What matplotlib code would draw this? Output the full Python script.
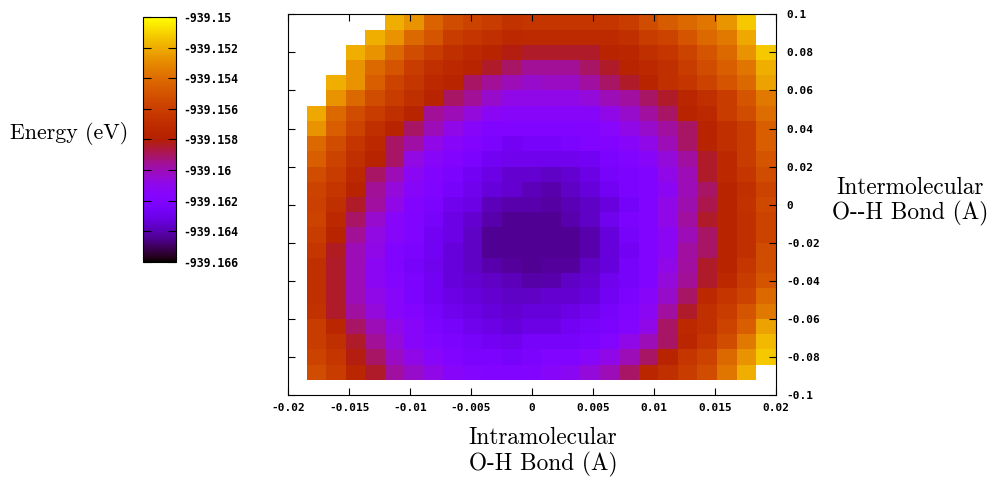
import numpy as np
import matplotlib
matplotlib.use("Agg")
import matplotlib.pyplot as plt

nan = np.nan

# Energy (eV) per cell, rows from top (intermolecular = 0.1) to bottom (-0.092),
# columns from left (intramolecular = -0.0185) to right (0.02)
energy_rows = [
    [nan, nan, nan, nan, -939.15192, -939.15272, -939.15432, -939.15536, -939.15576, -939.15616, -939.15672, -939.15656, -939.15656, -939.15656, -939.15656, -939.15656, -939.15616, -939.15536, -939.15464, -939.15410, -939.15365, -939.15264, -939.15128, nan],
    [nan, nan, nan, -939.15192, -939.15272, -939.15410, -939.15496, -939.15616, -939.15656, -939.15693, -939.15736, -939.15720, -939.15720, -939.15720, -939.15720, -939.15720, -939.15693, -939.15616, -939.15576, -939.15496, -939.15410, -939.15352, -939.15208, nan],
    [nan, nan, -939.15192, -939.15272, -939.15410, -939.15536, -939.15616, -939.15693, -939.15730, -939.15768, -939.15816, -939.15838, -939.15838, -939.15838, -939.15838, -939.15768, -939.15752, -939.15693, -939.15656, -939.15576, -939.15496, -939.15410, -939.15272, -939.15128],
    [nan, nan, -939.15272, -939.15410, -939.15496, -939.15616, -939.15693, -939.15730, -939.15768, -939.15838, -939.15906, -939.15960, -939.15960, -939.15960, -939.15906, -939.15838, -939.15768, -939.15730, -939.15693, -939.15616, -939.15536, -939.15451, -939.15365, -939.15192],
    [nan, -939.15192, -939.15272, -939.15451, -939.15576, -939.15656, -939.15730, -939.15768, -939.15906, -939.15960, -939.16002, -939.16032, -939.16024, -939.16024, -939.15970, -939.15906, -939.15838, -939.15768, -939.15693, -939.15656, -939.15576, -939.15496, -939.15410, -939.15230],
    [nan, -939.15272, -939.15410, -939.15536, -939.15616, -939.15693, -939.15768, -939.15906, -939.15960, -939.16032, -939.16090, -939.16090, -939.16090, -939.16090, -939.16061, -939.16002, -939.15970, -939.15906, -939.15838, -939.15752, -939.15693, -939.15616, -939.15496, -939.15352],
    [-939.15208, -939.15410, -939.15536, -939.15616, -939.15693, -939.15768, -939.15960, -939.16002, -939.16061, -939.16120, -939.16146, -939.16146, -939.16146, -939.16146, -939.16146, -939.16090, -939.16032, -939.15970, -939.15906, -939.15768, -939.15730, -939.15616, -939.15536, -939.15400],
    [-939.15272, -939.15451, -939.15576, -939.15693, -939.15768, -939.15906, -939.16002, -939.16090, -939.16146, -939.16197, -939.16197, -939.16197, -939.16197, -939.16197, -939.16184, -939.16152, -939.16090, -939.16032, -939.15970, -939.15906, -939.15768, -939.15693, -939.15616, -939.15451],
    [-939.15410, -939.15536, -939.15656, -939.15730, -939.15906, -939.15976, -939.16090, -939.16146, -939.16184, -939.16222, -939.16269, -939.16246, -939.16246, -939.16222, -939.16197, -939.16184, -939.16146, -939.16090, -939.16002, -939.15906, -939.15768, -939.15693, -939.15616, -939.15451],
    [-939.15451, -939.15576, -939.15693, -939.15768, -939.15906, -939.16080, -939.16146, -939.16184, -939.16222, -939.16269, -939.16291, -939.16291, -939.16291, -939.16291, -939.16269, -939.16222, -939.16197, -939.16146, -939.16061, -939.15970, -939.15838, -939.15730, -939.15616, -939.15496],
    [-939.15536, -939.15616, -939.15730, -939.15906, -939.16002, -939.16120, -939.16184, -939.16222, -939.16269, -939.16314, -939.16354, -939.16354, -939.16373, -939.16354, -939.16314, -939.16246, -939.16222, -939.16197, -939.16090, -939.16002, -939.15838, -939.15730, -939.15656, -939.15536],
    [-939.15576, -939.15656, -939.15768, -939.15960, -939.16061, -939.16146, -939.16197, -939.16246, -939.16291, -939.16334, -939.16354, -939.16392, -939.16410, -939.16373, -939.16334, -939.16269, -939.16222, -939.16197, -939.16120, -939.16002, -939.15906, -939.15768, -939.15693, -939.15576],
    [-939.15592, -939.15693, -939.15838, -939.15970, -939.16090, -939.16184, -939.16222, -939.16291, -939.16314, -939.16392, -939.16410, -939.16410, -939.16424, -939.16400, -939.16373, -939.16328, -939.16256, -939.16200, -939.16090, -939.15992, -939.15880, -939.15768, -939.15672, -939.15552],
    [-939.15576, -939.15730, -939.15906, -939.16040, -939.16146, -939.16197, -939.16246, -939.16314, -939.16354, -939.16410, -939.16443, -939.16443, -939.16443, -939.16410, -939.16373, -939.16291, -939.16222, -939.16197, -939.16090, -939.15970, -939.15838, -939.15768, -939.15693, -939.15576],
    [-939.15616, -939.15768, -939.15960, -939.16080, -939.16146, -939.16197, -939.16269, -939.16314, -939.16373, -939.16443, -939.16443, -939.16443, -939.16443, -939.16443, -939.16410, -939.16334, -939.16246, -939.16197, -939.16120, -939.16002, -939.15906, -939.15768, -939.15693, -939.15576],
    [-939.15656, -939.15832, -939.16002, -939.16090, -939.16197, -939.16222, -939.16269, -939.16334, -939.16373, -939.16443, -939.16443, -939.16443, -939.16443, -939.16443, -939.16410, -939.16334, -939.16269, -939.16197, -939.16120, -939.15970, -939.15906, -939.15768, -939.15693, -939.15536],
    [-939.15693, -939.15838, -939.16002, -939.16120, -939.16197, -939.16246, -939.16291, -939.16334, -939.16373, -939.16410, -939.16427, -939.16443, -939.16427, -939.16427, -939.16373, -939.16334, -939.16246, -939.16197, -939.16090, -939.15970, -939.15838, -939.15768, -939.15656, -939.15536],
    [-939.15693, -939.15838, -939.16002, -939.16120, -939.16171, -939.16222, -939.16269, -939.16334, -939.16354, -939.16373, -939.16392, -939.16416, -939.16410, -939.16373, -939.16354, -939.16291, -939.16246, -939.16197, -939.16061, -939.15960, -939.15838, -939.15730, -939.15616, -939.15496],
    [-939.15693, -939.15838, -939.16002, -939.16090, -939.16146, -939.16222, -939.16269, -939.16314, -939.16334, -939.16354, -939.16373, -939.16373, -939.16354, -939.16354, -939.16334, -939.16269, -939.16222, -939.16146, -939.16032, -939.15906, -939.15730, -939.15656, -939.15576, -939.15410],
    [-939.15672, -939.15838, -939.15970, -939.16061, -939.16146, -939.16184, -939.16246, -939.16291, -939.16314, -939.16334, -939.16354, -939.16334, -939.16334, -939.16314, -939.16291, -939.16246, -939.16197, -939.16120, -939.15970, -939.15838, -939.15693, -939.15616, -939.15496, -939.15352],
    [-939.15616, -939.15752, -939.15906, -939.16002, -939.16090, -939.16146, -939.16222, -939.16246, -939.16291, -939.16314, -939.16334, -939.16314, -939.16314, -939.16269, -939.16246, -939.16222, -939.16171, -939.16090, -939.15906, -939.15730, -939.15693, -939.15576, -939.15451, -939.15230],
    [-939.15616, -939.15693, -939.15838, -939.15960, -939.16061, -939.16146, -939.16197, -939.16222, -939.16246, -939.16269, -939.16291, -939.16246, -939.16246, -939.16246, -939.16222, -939.16171, -939.16090, -939.16002, -939.15906, -939.15752, -939.15656, -939.15536, -939.15352, -939.15165],
    [-939.15576, -939.15656, -939.15816, -939.15906, -939.16024, -939.16090, -939.16146, -939.16197, -939.16222, -939.16222, -939.16246, -939.16222, -939.16197, -939.16197, -939.16146, -939.16090, -939.16002, -939.15906, -939.15768, -939.15656, -939.15576, -939.15410, -939.15272, -939.15128],
    [-939.15536, -939.15616, -939.15752, -939.15838, -939.15970, -939.16032, -939.16090, -939.16146, -939.16171, -939.16197, -939.16197, -939.16184, -939.16146, -939.16120, -939.16061, -939.16002, -939.15906, -939.15752, -939.15693, -939.15616, -939.15536, -939.15365, -939.15192, nan],
]

# grid extent (bond displacement, A)
intra_first, intra_last = -0.0185, 0.02
inter_top, inter_bottom = 0.1, -0.092

x_ticks = [-0.02, -0.015, -0.01, -0.005, 0, 0.005, 0.01, 0.015, 0.02]
x_tick_labels = ["-0.02", "-0.015", "-0.01", "-0.005", "0", "0.005", "0.01", "0.015", "0.02"]
y_ticks = [0.1, 0.08, 0.06, 0.04, 0.02, 0, -0.02, -0.04, -0.06, -0.08, -0.1]
y_tick_labels = ["0.1", "0.08", "0.06", "0.04", "0.02", "0", "-0.02", "-0.04", "-0.06", "-0.08", "-0.1"]
cb_ticks = [-939.15, -939.152, -939.154, -939.156, -939.158, -939.16, -939.162, -939.164, -939.166]
cb_tick_labels = ["-939.15", "-939.152", "-939.154", "-939.156", "-939.158", "-939.16", "-939.162", "-939.164", "-939.166"]
e_min, e_max = -939.166, -939.15

plt.rcParams["axes.unicode_minus"] = False
tick_font = dict(family="DejaVu Sans Mono", fontweight="bold", fontsize=8)

fig = plt.figure(figsize=(9.89, 4.79), dpi=100)
fig.patch.set_facecolor("white")

ax = fig.add_axes([0.2915, 0.1754, 0.4928, 0.7947])
E = np.ma.masked_invalid(np.array(energy_rows))
nrow, ncol = E.shape
x_edges = np.linspace(intra_first, intra_last, ncol + 1)
y_edges = np.linspace(inter_top, inter_bottom, nrow + 1)
mesh = ax.pcolormesh(x_edges, y_edges, E, cmap="gnuplot", vmin=e_min, vmax=e_max,
                     shading="flat", antialiased=False, edgecolors="none")
ax.set_xlim(-0.02, 0.02)
ax.set_ylim(-0.1, 0.1)
ax.set_xticks(x_ticks)
ax.set_xticklabels(x_tick_labels, **tick_font)
ax.set_yticks(y_ticks)
ax.set_yticklabels(y_tick_labels, **tick_font)
ax.tick_params(axis="both", direction="in", length=5, width=0.8,
               top=True, right=True, left=True, bottom=True,
               labelleft=False, labelright=True, labelbottom=True)
ax.tick_params(axis="x", pad=6)
ax.tick_params(axis="y", pad=8)
for s in ax.spines.values():
    s.set_linewidth(0.8)

cax = fig.add_axes([0.1443, 0.4537, 0.0337, 0.5102])
cb = fig.colorbar(mesh, cax=cax)
cb.set_ticks(cb_ticks)
cb.set_ticklabels(cb_tick_labels)
for t in cax.get_yticklabels():
    t.set_family("DejaVu Sans Mono")
    t.set_fontweight("bold")
    t.set_fontsize(8.3)
cax.tick_params(direction="in", length=6, width=0.8, left=True, right=True, pad=5)
cb.outline.set_linewidth(0.8)

fig.text(0.0698, 0.7223, "Energy (eV)", ha="center", va="center", family="cmr10", fontsize=15.8)
fig.text(0.920, 0.5794, "Intermolecular\nO--H Bond (A)", ha="center", va="center",
         multialignment="center", linespacing=1.1, family="cmr10", fontsize=16.8)
fig.text(0.549, 0.0574, "Intramolecular\nO-H Bond (A)", ha="center", va="center",
         multialignment="center", linespacing=1.15, family="cmr10", fontsize=16.8)

fig.savefig("out.png", dpi=100, facecolor="white")
